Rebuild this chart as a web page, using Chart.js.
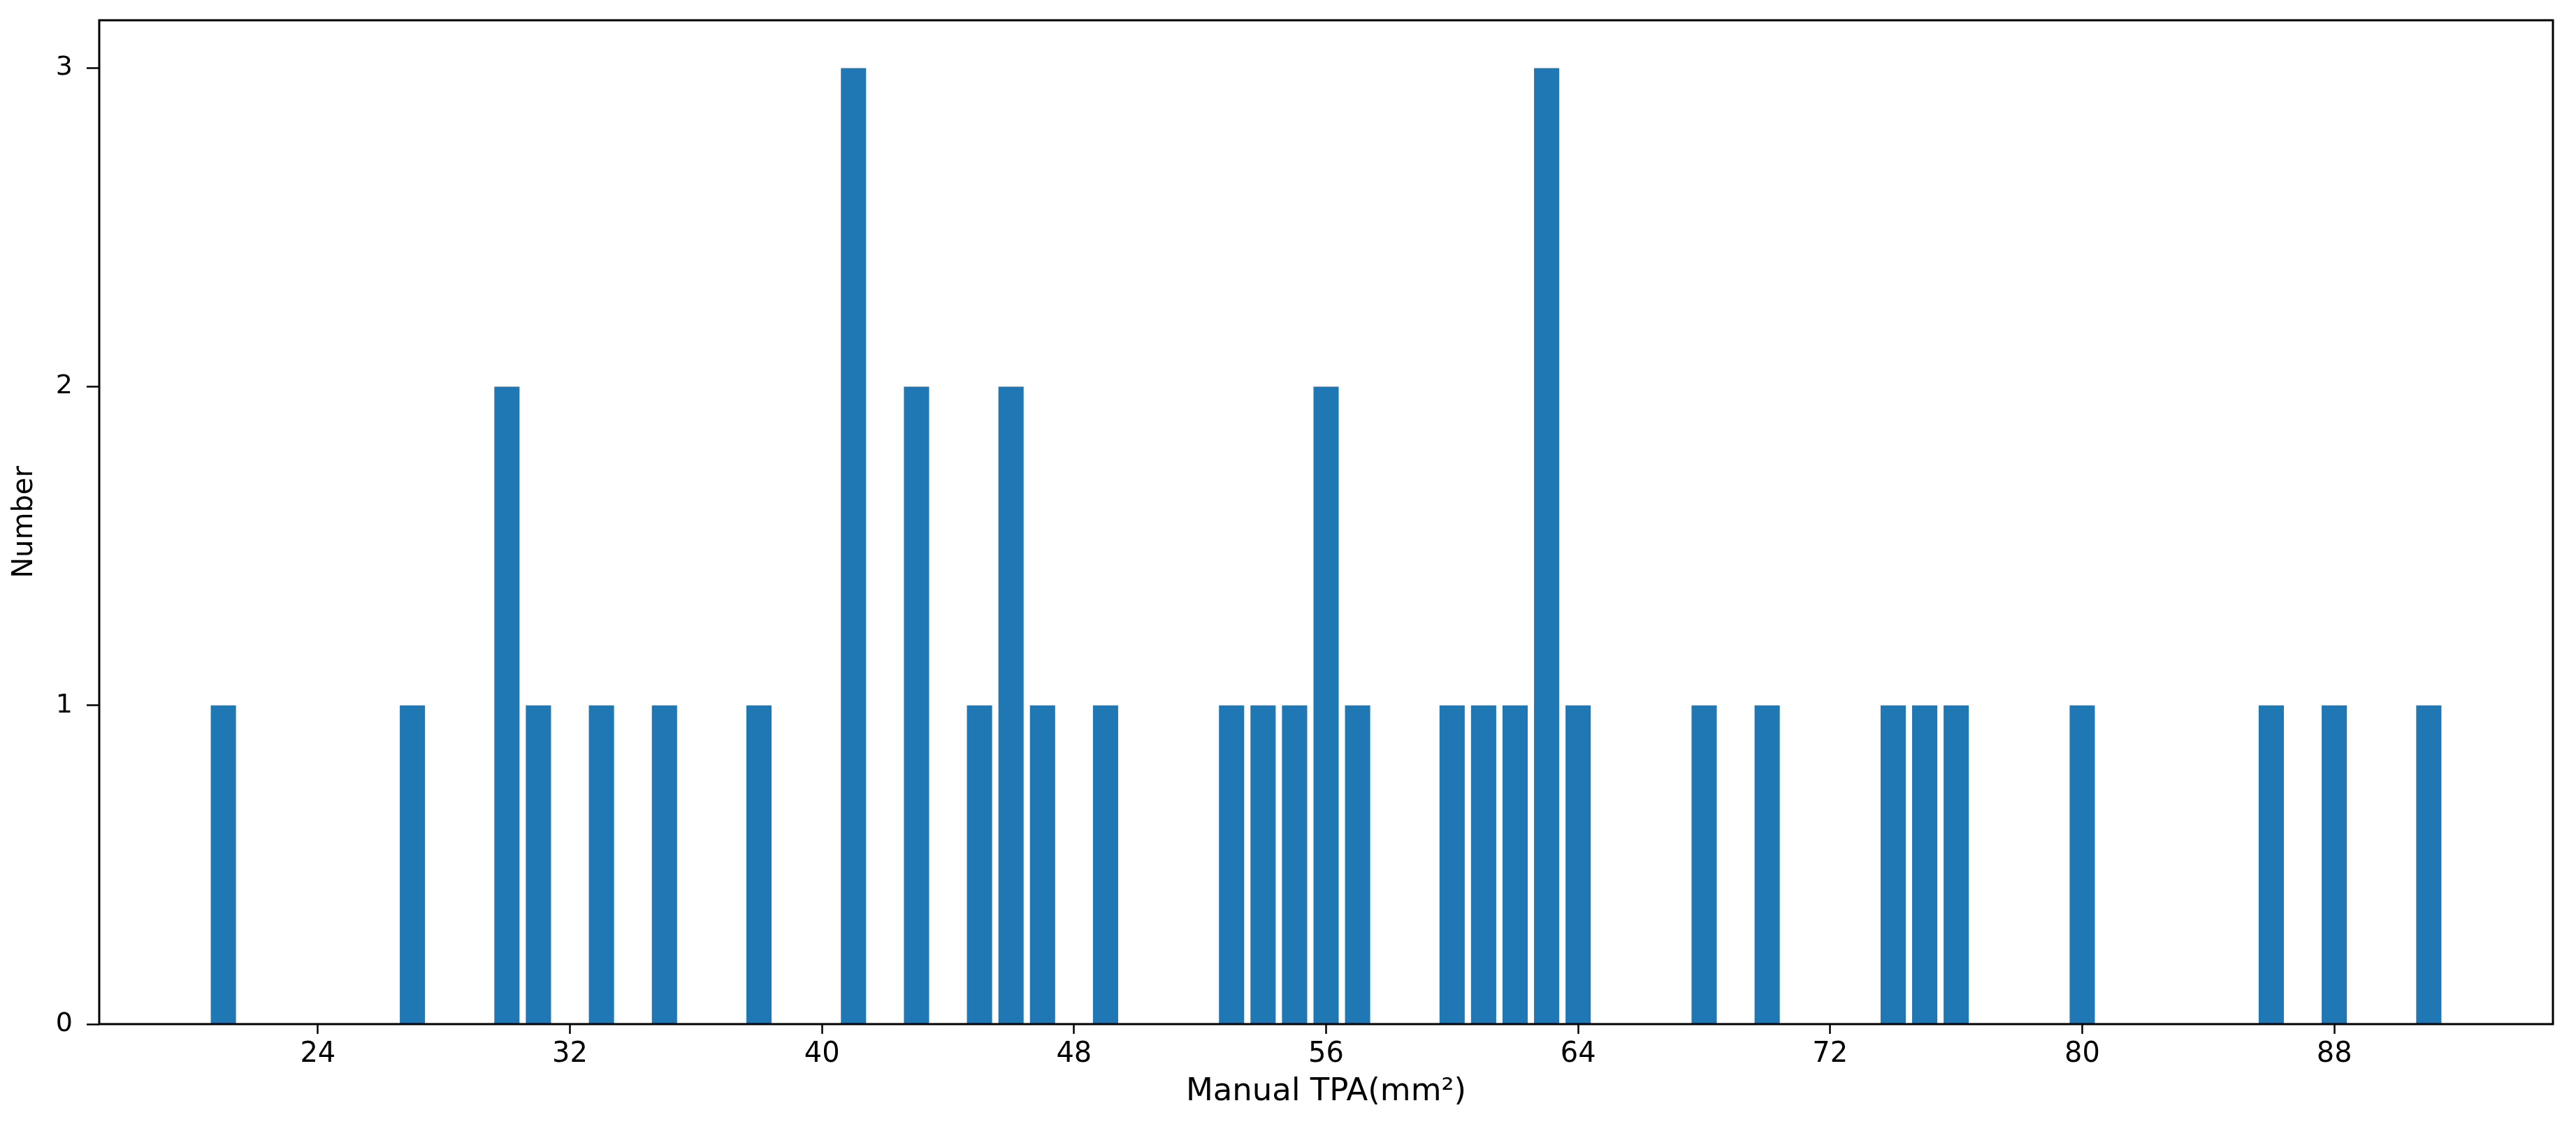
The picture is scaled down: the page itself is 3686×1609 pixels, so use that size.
<!DOCTYPE html>
<html>
<head>
<meta charset="utf-8">
<script src="https://cdn.jsdelivr.net/npm/chart.js@4/dist/chart.umd.min.js"></script>
<style>
  html, body { margin: 0; padding: 0; background: #fff; }
  #wrap { width: 3686px; height: 1609px; }
</style>
</head>
<body>
<div id="wrap"><canvas id="tpaChart" width="3686" height="1609"></canvas></div>
<script>
/* nilai TPA (mm²) dan jumlahnya */
const tpaValues = [21, 27, 30, 31, 33, 35, 38, 41, 43, 45, 46, 47, 49, 53, 54, 55, 56, 57,
                   60, 61, 62, 63, 64, 68, 70, 74, 75, 76, 80, 86, 88, 91];
const counts    = [1, 1, 2, 1, 1, 1, 1, 3, 2, 1, 2, 1, 1, 1, 1, 1, 2, 1,
                   1, 1, 1, 3, 1, 1, 1, 1, 1, 1, 1, 1, 1, 1];
const xTicks = [24, 32, 40, 48, 56, 64, 72, 80, 88];
const yTicks = [0, 1, 2, 3];

const FONT = "'DejaVu Sans', 'Liberation Sans', sans-serif";

/* kotak bingkai axes (atas & kanan juga) */
const framePlugin = {
    id: 'frame',
    afterDraw(chart) {
        const { ctx, chartArea: a } = chart;
        ctx.save();
        ctx.strokeStyle = '#000';
        ctx.lineWidth = 3;
        ctx.strokeRect(a.left, a.top, a.right - a.left, a.bottom - a.top);
        ctx.restore();
    }
};

const ctx = document.getElementById('tpaChart').getContext('2d');

new Chart(ctx, {
    type: 'bar',
    data: {
        datasets: [{
            data: tpaValues.map((v, i) => ({ x: v, y: counts[i] })),
            backgroundColor: '#1f77b4',
            borderWidth: 0,
            barPercentage: 0.8,
            categoryPercentage: 1.0
        }]
    },
    options: {
        responsive: false,
        animation: false,
        devicePixelRatio: 1,
        layout: { padding: { top: 29, right: 33, left: 0, bottom: 0 } },
        plugins: {
            legend: { display: false },
            tooltip: { enabled: false }
        },
        scales: {
            x: {
                type: 'linear',
                offset: false,
                min: 17.06,
                max: 94.94,
                afterFit: s => { s.height = 143; s.paddingLeft = 0; s.paddingRight = 0; },
                afterBuildTicks: s => { s.ticks = xTicks.map(v => ({ value: v })); },
                grid: {
                    offset: false,
                    drawOnChartArea: false,
                    drawTicks: true,
                    tickLength: 14,
                    tickWidth: 2.5,
                    tickColor: '#000'
                },
                border: { display: false },
                ticks: {
                    color: '#000',
                    padding: 6,
                    maxRotation: 0,
                    autoSkip: false,
                    font: { family: FONT, size: 40 }
                },
                title: {
                    display: true,
                    text: 'Manual TPA(mm²)',
                    color: '#000',
                    font: { family: FONT, size: 45 },
                    padding: { top: 0, bottom: 19 }
                }
            },
            y: {
                type: 'linear',
                min: 0,
                max: 3.15,
                afterFit: s => { s.width = 142; s.paddingTop = 0; s.paddingBottom = 0; },
                afterBuildTicks: s => { s.ticks = yTicks.map(v => ({ value: v })); },
                grid: {
                    drawOnChartArea: false,
                    drawTicks: true,
                    tickLength: 18,
                    tickWidth: 2.5,
                    tickColor: '#000'
                },
                border: { display: false },
                ticks: {
                    color: '#000',
                    padding: 20,
                    font: { family: FONT, size: 38 }
                },
                title: {
                    display: true,
                    text: 'Number',
                    color: '#000',
                    font: { family: FONT, size: 40 },
                    padding: { top: 12, bottom: 0 }
                }
            }
        }
    },
    plugins: [framePlugin]
});
</script>
</body>
</html>
